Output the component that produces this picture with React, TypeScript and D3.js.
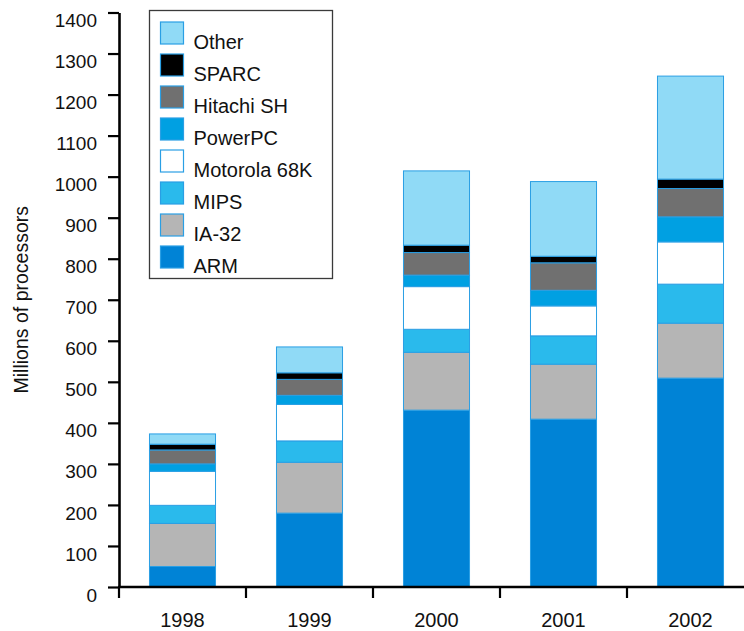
import * as d3 from "d3"
import React, { useEffect, useRef } from "react"

// Processor shipments, millions of units.
const years = ["1998", "1999", "2000", "2001", "2002"]
const arm = [50, 180, 431, 409, 509]
const ia32 = [105, 124, 141, 134, 134]
const mips = [44, 52, 56, 69, 95]
const motorola68k = [83, 89, 104, 73, 103]
const powerpc = [18, 22, 28, 38, 61]
const hitachiSh = [34, 39, 55, 67, 69]
const sparc = [14, 16, 18, 16, 23]
const other = [25, 63, 181, 182, 251]
const yTicks = [0, 100, 200, 300, 400, 500, 600, 700, 800, 900, 1000, 1100, 1200, 1300, 1400]

// stacking order, bottom to top
const series = [
    { key: "arm", label: "ARM", color: "#0083d6", values: arm },
    { key: "ia32", label: "IA-32", color: "#b5b5b5", values: ia32 },
    { key: "mips", label: "MIPS", color: "#2abaec", values: mips },
    { key: "m68k", label: "Motorola 68K", color: "#ffffff", values: motorola68k },
    { key: "ppc", label: "PowerPC", color: "#00a0e2", values: powerpc },
    { key: "sh", label: "Hitachi SH", color: "#707070", values: hitachiSh },
    { key: "sparc", label: "SPARC", color: "#000000", values: sparc },
    { key: "other", label: "Other", color: "#90daf6", values: other },
]

const FONT = "'Liberation Sans', Arial, Helvetica, sans-serif"
const EDGE = "#2a9fe4"

const App = () => {
    const refSvg = useRef<SVGSVGElement>(null)

    useEffect(() => {
        const svg = d3.select(refSvg.current)
        svg.selectAll("*").remove()

        const margins = { left: 119, right: -10, top: 12.5, bottom: 44 }
        const width = 744
        const height = 631

        const x = d3.scaleBand()
                    .domain(years)
                    .range([margins.left, width - margins.right])
                    .paddingInner(0.48)
                    .paddingOuter(0.24)
        const y = d3.scaleLinear()
                    .domain([0, 1400])
                    .range([height - margins.bottom, margins.top])

        // build rows for d3.stack from the arrays
        const rows = years.map((yr, i) => {
            const row: any = { year: yr }
            series.forEach(s => { row[s.key] = s.values[i] })
            return row
        })
        const stacked = d3.stack().keys(series.map(s => s.key))(rows)

        // Bars
        const gBars = svg.append("g").attr("class", "group-bars")
        gBars.selectAll("g")
            .data(stacked)
            .join("g")
            .attr("fill", (d, i) => series[i].color)
            .selectAll("rect")
            .data(d => d)
            .join("rect")
            .attr("x", d => x(d.data.year)!)
            .attr("width", x.bandwidth())
            .attr("y", d => y(d[1]))
            .attr("height", d => y(d[0]) - y(d[1]))
            .attr("stroke", EDGE)
            .attr("stroke-width", 1)

        // Y axis
        const gYAxis = svg.append("g")
                        .attr("transform", `translate(${margins.left}, 0)`)
                        .call(d3.axisLeft(y)
                                .tickValues(yTicks)
                                .tickFormat(d3.format("d"))
                                .tickSize(11)
                                .tickSizeOuter(0)
                                .tickPadding(11))
        gYAxis.select(".domain").attr("stroke", "#000").attr("stroke-width", 2.6)
        gYAxis.selectAll(".tick line").attr("stroke", "#000").attr("stroke-width", 2.2)
        gYAxis.selectAll(".tick text")
            .attr("font-family", FONT)
            .attr("font-size", 19)
            .attr("fill", "#111")
            .attr("y", 8)

        // X axis: baseline with ticks at band boundaries
        const y0 = y(0)
        const gXAxis = svg.append("g").attr("class", "group-x-axis")
        gXAxis.append("line")
            .attr("x1", margins.left - 1)
            .attr("x2", width)
            .attr("y1", y0)
            .attr("y2", y0)
            .attr("stroke", "#000")
            .attr("stroke-width", 2.6)
        const gap = (x.step() - x.bandwidth()) / 2
        gXAxis.selectAll(".tick-x")
            .data(years)
            .join("line")
            .attr("class", "tick-x")
            .attr("x1", d => x(d)! - gap)
            .attr("x2", d => x(d)! - gap)
            .attr("y1", y0)
            .attr("y2", y0 + 11)
            .attr("stroke", "#000")
            .attr("stroke-width", 2.2)
        gXAxis.selectAll(".label-x")
            .data(years)
            .join("text")
            .attr("class", "label-x")
            .attr("x", d => x(d)! + x.bandwidth() / 2)
            .attr("y", y0 + 40)
            .attr("text-anchor", "middle")
            .attr("font-family", FONT)
            .attr("font-size", 20)
            .attr("fill", "#111")
            .text(d => d)

        // Y axis title
        svg.append("text")
            .attr("transform", `translate(21, ${(y(0) + y(1400)) / 2}) rotate(-90)`)
            .attr("text-anchor", "middle")
            .attr("dominant-baseline", "central")
            .attr("font-family", FONT)
            .attr("font-size", 19.5)
            .attr("fill", "#111")
            .text("Millions of processors")

        // Legend, top entry is the top of the stack
        const gLegend = svg.append("g").attr("transform", "translate(149.5, 10.5)")
        gLegend.append("rect")
            .attr("width", 183)
            .attr("height", 268)
            .attr("fill", "#fff")
            .attr("stroke", "#3a3a3a")
            .attr("stroke-width", 1.3)
        const entries = gLegend.selectAll(".entry")
            .data(series.slice().reverse())
            .join("g")
            .attr("class", "entry")
            .attr("transform", (d, i) => `translate(11, ${11.5 + i * 32})`)
        entries.append("rect")
            .attr("width", 23)
            .attr("height", 22)
            .attr("fill", d => d.color)
            .attr("stroke", EDGE)
            .attr("stroke-width", 1.2)
        entries.append("text")
            .attr("x", 33)
            .attr("y", 26.5)
            .attr("font-family", FONT)
            .attr("font-size", 20)
            .attr("fill", "#111")
            .text(d => d.label)
    }, [])

    return (
        <div style={{ position: "absolute", left: 0, top: 0 }}>
            <svg ref={refSvg} width={744} height={631} style={{ display: "block", background: "#fff" }}></svg>
        </div>
    )
}

export default App
